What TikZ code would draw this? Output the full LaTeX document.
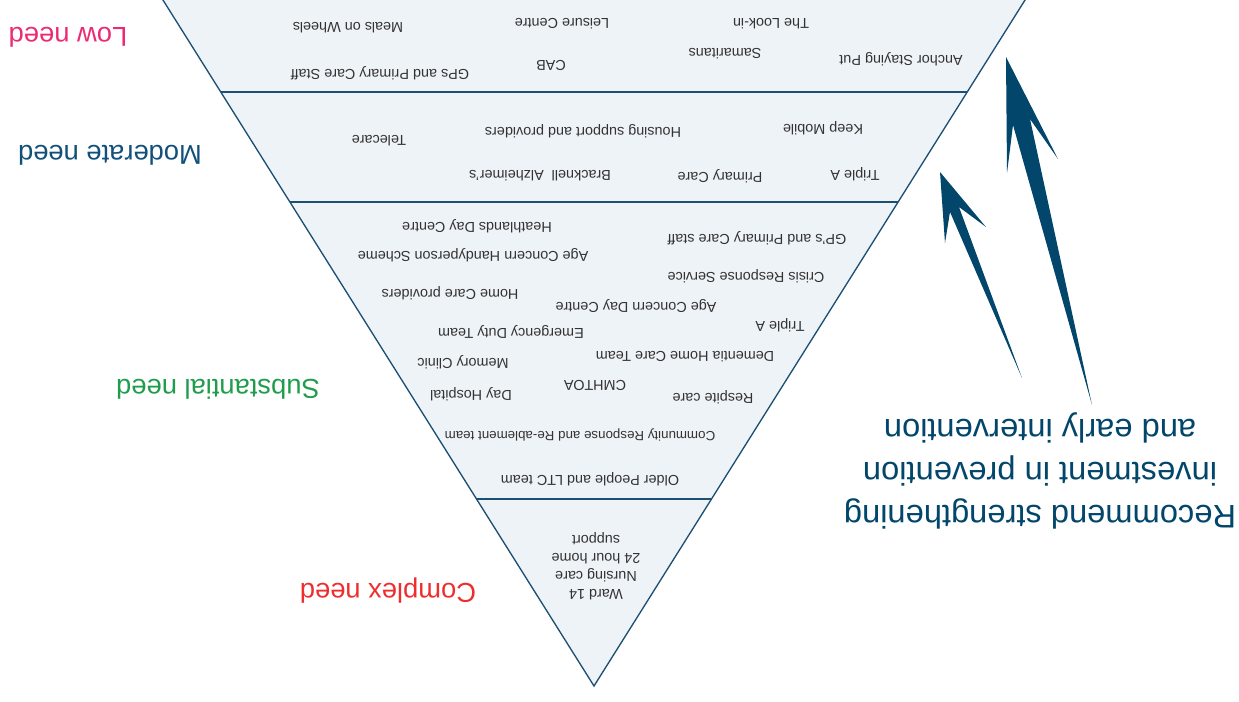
\documentclass[tikz,border=0pt]{standalone}
\usepackage{fontspec}
\setmainfont{Liberation Sans}

\definecolor{edgeblue}{HTML}{1D4F73}
\definecolor{bandfill}{HTML}{EEF3F8}
\definecolor{arrowblue}{HTML}{03466B}
\definecolor{itemgrey}{HTML}{333333}
\definecolor{lowpink}{HTML}{EC2A74}
\definecolor{modblue}{HTML}{11507A}
\definecolor{subgreen}{HTML}{1F9D4C}
\definecolor{complexred}{HTML}{EE2E2E}

\tikzset{
  item/.style={rotate=180, inner sep=0pt, text=itemgrey, yshift=2.8pt,
    font=\fontsize{10.8}{13.5}\selectfont},
  needlabel/.style={rotate=180, inner sep=0pt, yshift=3pt,
    font=\fontsize{20.5}{24}\selectfont},
  taper/.style={fill=arrowblue}
}

\begin{document}
\begin{tikzpicture}[x=0.75pt, y=-0.75pt]
      \useasboundingbox (0,0) rectangle (1239,701);
      \clip (0,0) rectangle (1239,701);

      \coordinate (tl) at (150.4,-20);
      \coordinate (tr) at (1037.6,-20);
      \coordinate (apex) at (594,686);

      \fill[bandfill] (tl) -- (tr) -- (apex) -- cycle;
      \draw[edgeblue, line width=1.5pt] (220.8,92) -- (967.2,92);
      \draw[edgeblue, line width=1.5pt] (290.1,202) -- (897.9,202);
      \draw[edgeblue, line width=1.5pt] (476.5,499) -- (711.5,499);
      \draw[edgeblue, line width=1pt] (tl) -- (apex) -- (tr);

      \node[item] (meals) at (348,24) {Meals on Wheels};
      \node[item] (leisure) at (562,20) {Leisure Centre};
      \node[item] (lookin) at (771,20) {The Look-in};
      \node[item] (gpslow) at (380,69) {GPs and Primary Care Staff};
      \node[item] (cab) at (551,62) {CAB};
      \node[item] (samaritans) at (725,50) {Samaritans};
      \node[item] (anchor) at (901,55) {Anchor Staying Put};

      \node[item] (telecare) at (379,137) {Telecare};
      \node[item] (housing) at (583,127) {Housing support and providers};
      \node[item] (keepmobile) at (823,124) {Keep Mobile};
      \node[item] (alzheimers) at (540,172) {Bracknell\ \ Alzheimer's};
      \node[item] (primary) at (720,172) {Primary Care};
      \node[item] (tripleamod) at (855,170) {Triple A};

      \node[item] (heathlands) at (477,222) {Heathlands Day Centre};
      \node[item] (gpssub) at (757,234) {GP's and Primary Care staff};
      \node[item] (handyperson) at (473,251) {Age Concern Handyperson Scheme};
      \node[item] (crisis) at (746,272) {Crisis Response Service};
      \node[item] (homecare) at (450,289) {Home Care providers};
      \node[item] (daycentre) at (636,302) {Age Concern Day Centre};
      \node[item] (tripleasub) at (780,321) {Triple A};
      \node[item] (emergency) at (511,328) {Emergency Duty Team};
      \node[item] (memory) at (463,358) {Memory Clinic};
      \node[item] (dementia) at (685,353) {Dementia Home Care Team};
      \node[item] (dayhospital) at (471,390) {Day Hospital};
      \node[item] (cmhtoa) at (595,382) {CMHTOA};
      \node[item] (respite) at (713,393) {Respite care};
      \node[item, font=\fontsize{10}{12}\selectfont] (reablement) at (580,431) {Community Response and Re-ablement team};
      \node[item] (ltc) at (590,475) {Older People and LTC team};

      \node[item, align=center] (ward) at (596,562) {Ward 14\\Nursing care\\24 hour home\\support};

      \node[needlabel, text=lowpink] (low) at (68,33) {Low need};
      \node[needlabel, text=modblue] (moderate) at (110,151) {Moderate need};
      \node[needlabel, text=subgreen] (substantial) at (218,385) {Substantial need};
      \node[needlabel, text=complexred] (complex) at (388,587) {Complex need};

      \fill[taper] (940,172) -- (986,227) -- (959,207) -- (1022,378)
        -- (950,212) -- (945,243) -- cycle;
      \fill[taper] (1006,57) -- (1058,159) -- (1030,119) -- (1092,405)
        -- (1013,125) -- (1007,173) -- cycle;

      \node[rotate=180, align=center, text=arrowblue, inner sep=0pt, yshift=2.2pt,
        font=\fontsize{24.5}{32.2}\selectfont] (recommend) at (1040,468)
        {Recommend strengthening\\investment in prevention\\and early intervention};
\end{tikzpicture}
\end{document}
